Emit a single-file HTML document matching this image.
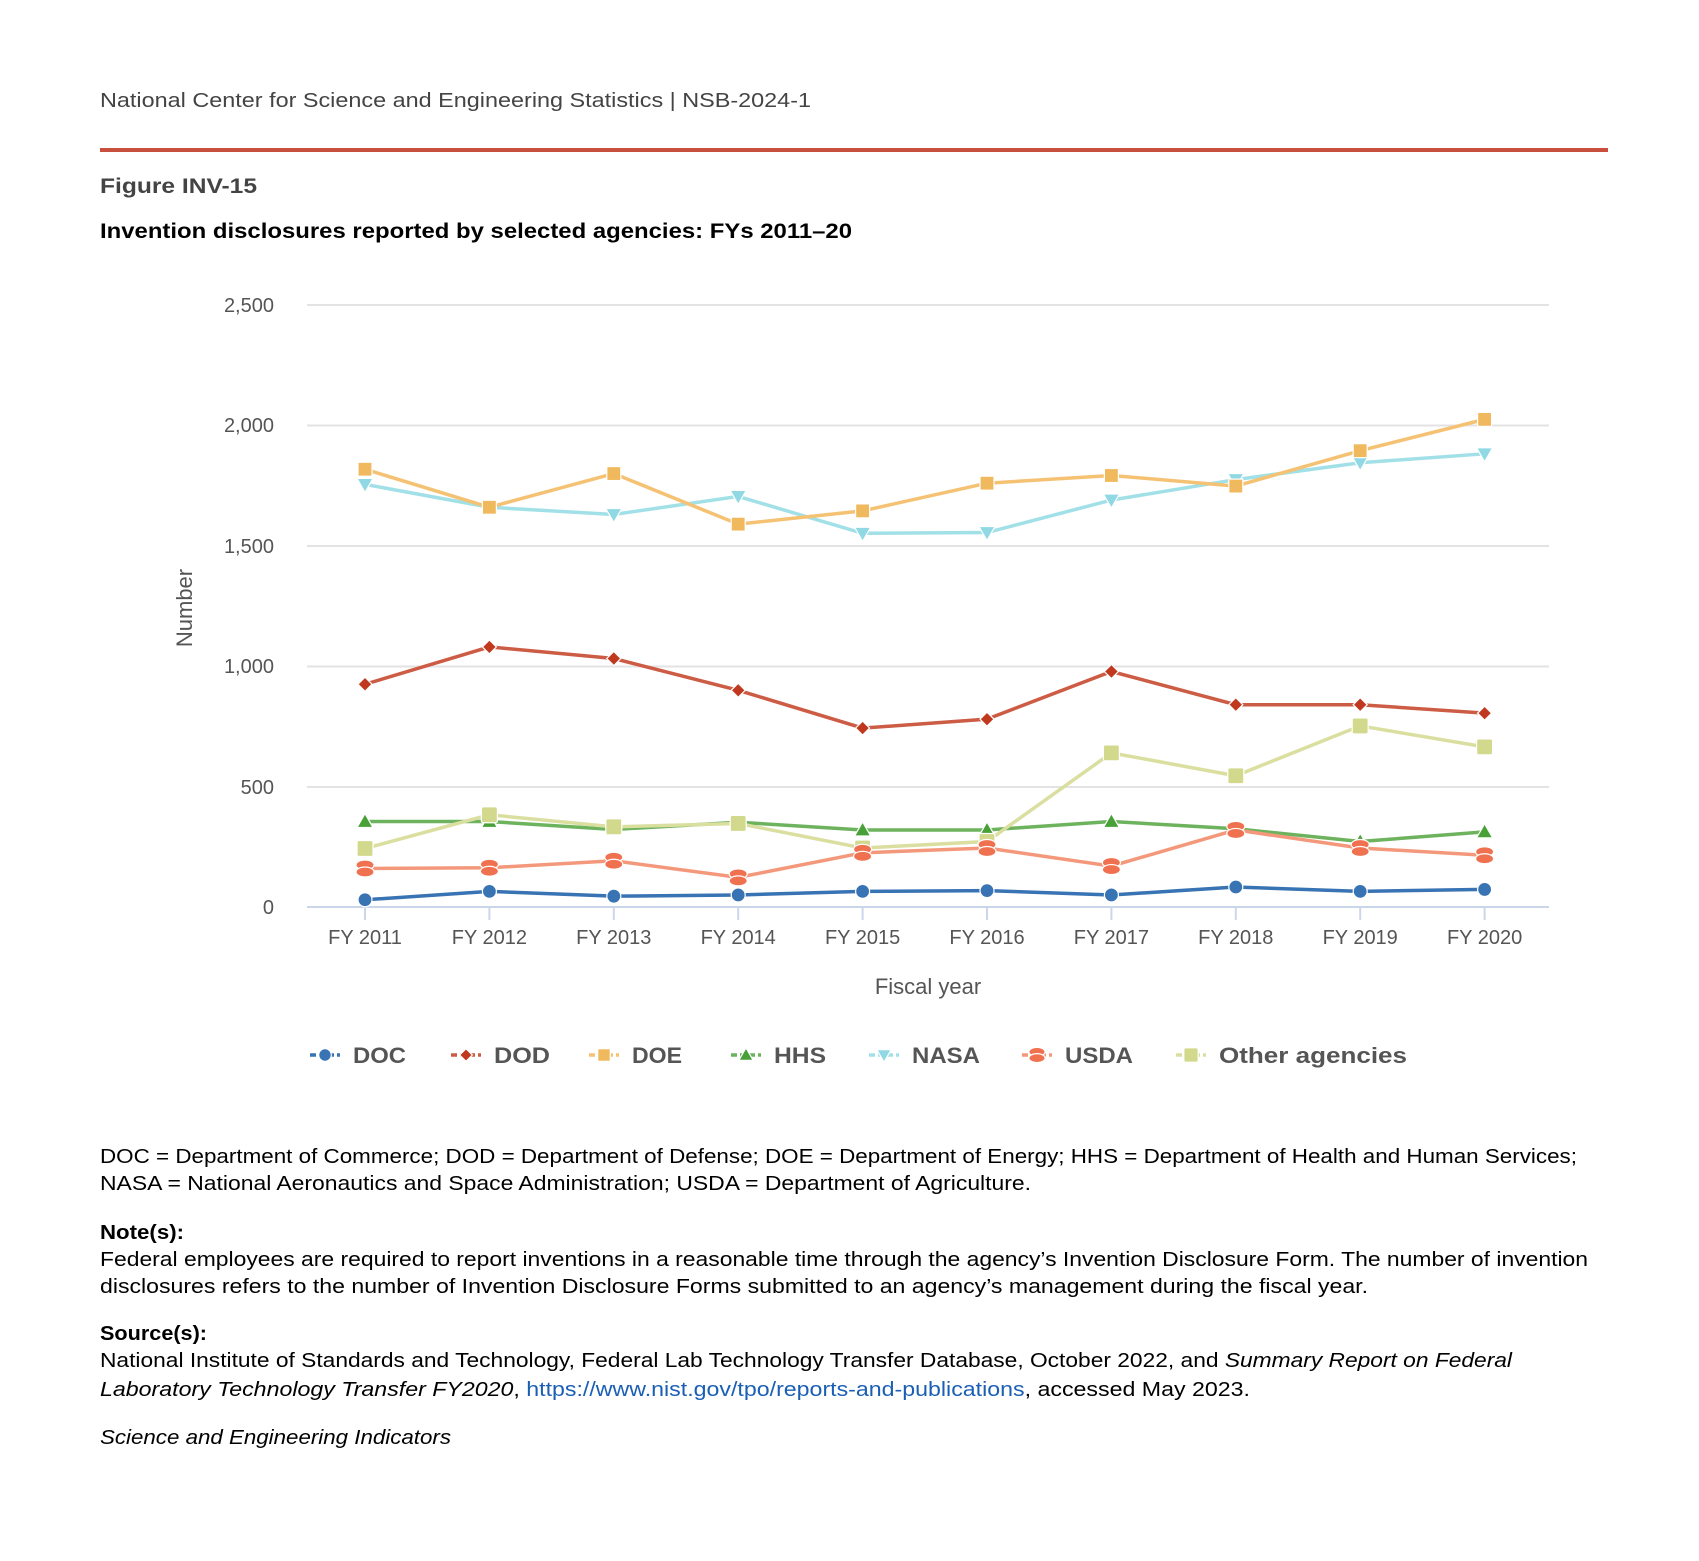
<!DOCTYPE html>
<html><head><meta charset="utf-8"><style>
html,body{margin:0;padding:0;background:#fff;}
body{width:1699px;height:1556px;overflow:hidden;}
</style></head><body>
<svg width="1699" height="1556" xmlns="http://www.w3.org/2000/svg" font-family="'Liberation Sans', sans-serif">
<text x="100" y="107" font-size="20" fill="#444" textLength="711" lengthAdjust="spacingAndGlyphs">National Center for Science and Engineering Statistics  |  NSB-2024-1</text>
<rect x="100" y="148" width="1508" height="4" fill="#c9503e"/>
<text x="100" y="193" font-size="21" font-weight="bold" fill="#444" textLength="157" lengthAdjust="spacingAndGlyphs">Figure INV-15</text>
<text x="100" y="238" font-size="21" font-weight="bold" fill="#000" textLength="752" lengthAdjust="spacingAndGlyphs">Invention disclosures reported by selected agencies: FYs 2011–20</text>
<g stroke="#e3e3e3" stroke-width="2">
<line x1="307" x2="1549" y1="305" y2="305"/><line x1="307" x2="1549" y1="425.5" y2="425.5"/>
<line x1="307" x2="1549" y1="546" y2="546"/><line x1="307" x2="1549" y1="666.5" y2="666.5"/>
<line x1="307" x2="1549" y1="787" y2="787"/>
</g>
<line x1="307" x2="1549" y1="907" y2="907" stroke="#ccd6eb" stroke-width="2"/>
<g stroke="#ccd6eb" stroke-width="2" id="ticks"></g>
<g font-size="20" fill="#555" text-anchor="end">
<text x="274" y="312">2,500</text><text x="274" y="432">2,000</text><text x="274" y="553">1,500</text>
<text x="274" y="673">1,000</text><text x="274" y="794">500</text><text x="274" y="914">0</text>
</g>
<g font-size="20" fill="#555" text-anchor="middle" id="xl"></g>
<text x="928" y="994" font-size="22" fill="#555" text-anchor="middle">Fiscal year</text>
<text transform="translate(192,608) rotate(-90)" font-size="22" fill="#555" text-anchor="middle">Number</text>
<g id="series"></g>
<g id="legend" font-size="22" font-weight="bold" fill="#555"></g>
<g font-size="20" fill="#000" lengthAdjust="spacingAndGlyphs">
<text x="100" y="1163" textLength="1477" lengthAdjust="spacingAndGlyphs">DOC = Department of Commerce; DOD = Department of Defense; DOE = Department of Energy; HHS = Department of Health and Human Services;</text>
<text x="100" y="1190" textLength="931" lengthAdjust="spacingAndGlyphs">NASA = National Aeronautics and Space Administration; USDA = Department of Agriculture.</text>
<text x="100" y="1239" font-weight="bold" textLength="84" lengthAdjust="spacingAndGlyphs">Note(s):</text>
<text x="100" y="1266" textLength="1488" lengthAdjust="spacingAndGlyphs">Federal employees are required to report inventions in a reasonable time through the agency’s Invention Disclosure Form. The number of invention</text>
<text x="100" y="1293" textLength="1268" lengthAdjust="spacingAndGlyphs">disclosures refers to the number of Invention Disclosure Forms submitted to an agency’s management during the fiscal year.</text>
<text x="100" y="1340" font-weight="bold" textLength="107" lengthAdjust="spacingAndGlyphs">Source(s):</text>
<text x="100" y="1367" textLength="1412" lengthAdjust="spacingAndGlyphs">National Institute of Standards and Technology, Federal Lab Technology Transfer Database, October 2022, and <tspan font-style="italic">Summary Report on Federal</tspan></text>
<text x="100" y="1396" textLength="1150" lengthAdjust="spacingAndGlyphs"><tspan font-style="italic">Laboratory Technology Transfer FY2020</tspan>, <tspan fill="#1a5fb4">https://www.nist.gov/tpo/reports-and-publications</tspan>, accessed May 2023.</text>
<text x="100" y="1444" font-style="italic" textLength="351" lengthAdjust="spacingAndGlyphs">Science and Engineering Indicators</text>
</g>
</svg>
<script>
const NS="http://www.w3.org/2000/svg";
function el(p,t,a,txt){const e=document.createElementNS(NS,t);for(const k in a)e.setAttribute(k,a[k]);if(txt)e.textContent=txt;p.appendChild(e);return e;}
const X=i=>365+i*124.4, Y=v=>907-v*0.2408;
const tk=document.getElementById('ticks'), xl=document.getElementById('xl');
for(let i=0;i<10;i++){el(tk,'line',{x1:X(i),x2:X(i),y1:907,y2:920});el(xl,'text',{x:X(i),y:944},'FY '+(2011+i));}
const S=[
["DOC","#3873b3","#3873b3","circle",[30,65,45,50,65,68,50,83,65,73]],
["DOD","#cd5c45","#c0391f","diamond",[925,1080,1032,900,743,780,978,840,840,805]],
["DOE","#f5c274","#f0b95d","square",[1818,1660,1800,1590,1645,1760,1792,1748,1895,2025]],
["HHS","#6db35d","#47a136","tri",[355,355,322,352,320,320,355,325,272,312]],
["NASA","#a2e0e8","#8fd8e4","tridown",[1755,1660,1630,1705,1552,1555,1690,1775,1845,1882]],
["USDA","#f4987c","#f0714f","usda",[160,163,192,123,225,245,170,320,245,215]],
["Other agencies","#dadfa0","#d3d98c","sq2",[243,383,333,347,245,272,640,545,752,665]]];
function marker(g,type,x,y,c,s){s=s||1;
 const st={fill:c,stroke:'#fff','stroke-width':1.2};
 if(type=='circle')el(g,'circle',Object.assign({cx:x,cy:y,r:7*s},st));
 else if(type=='diamond')el(g,'path',Object.assign({d:`M${x} ${y-7*s}L${x+7*s} ${y}L${x} ${y+7*s}L${x-7*s} ${y}Z`},st));
 else if(type=='square')el(g,'rect',Object.assign({x:x-7*s,y:y-7*s,width:14*s,height:14*s},st));
 else if(type=='sq2')el(g,'rect',Object.assign({x:x-8*s,y:y-8*s,width:16*s,height:16*s,rx:2},st));
 else if(type=='tri')el(g,'path',Object.assign({d:`M${x} ${y-8*s}L${x+8*s} ${y+6*s}L${x-8*s} ${y+6*s}Z`},st));
 else if(type=='tridown')el(g,'path',Object.assign({d:`M${x} ${y+8*s}L${x+8*s} ${y-6*s}L${x-8*s} ${y-6*s}Z`},st));
 else if(type=='usda'){el(g,'ellipse',Object.assign({cx:x,cy:y-3.5*s,rx:9*s,ry:5*s},st));el(g,'ellipse',Object.assign({cx:x,cy:y+3.5*s,rx:9*s,ry:5*s},st));}
}
const sg=document.getElementById('series');
const order=[4,2,1,3,6,5,0];
for(const k of order){const [n,lc,mc,t,d]=S[k];
 el(sg,'polyline',{points:d.map((v,i)=>X(i)+','+Y(v)).join(' '),fill:'none',stroke:lc,'stroke-width':3.5});
 d.forEach((v,i)=>marker(sg,t,X(i),Y(v),mc));}
const lg=document.getElementById('legend');
const lx=[325,466,604,746,884,1037,1191];
const tw=[53,56,50,52,68,68,188];
S.forEach((s,i)=>{const x=lx[i],y=1055;
 el(lg,'line',{x1:x-15,x2:x+15,y1:y,y2:y,stroke:s[1],'stroke-width':3.5,'stroke-dasharray':'6,3'});
 marker(lg,s[3],x,y,s[2],0.9);
 el(lg,'text',{x:x+28,y:y+8,textLength:tw[i],lengthAdjust:'spacingAndGlyphs'},s[0]);});
</script>
</body></html>
